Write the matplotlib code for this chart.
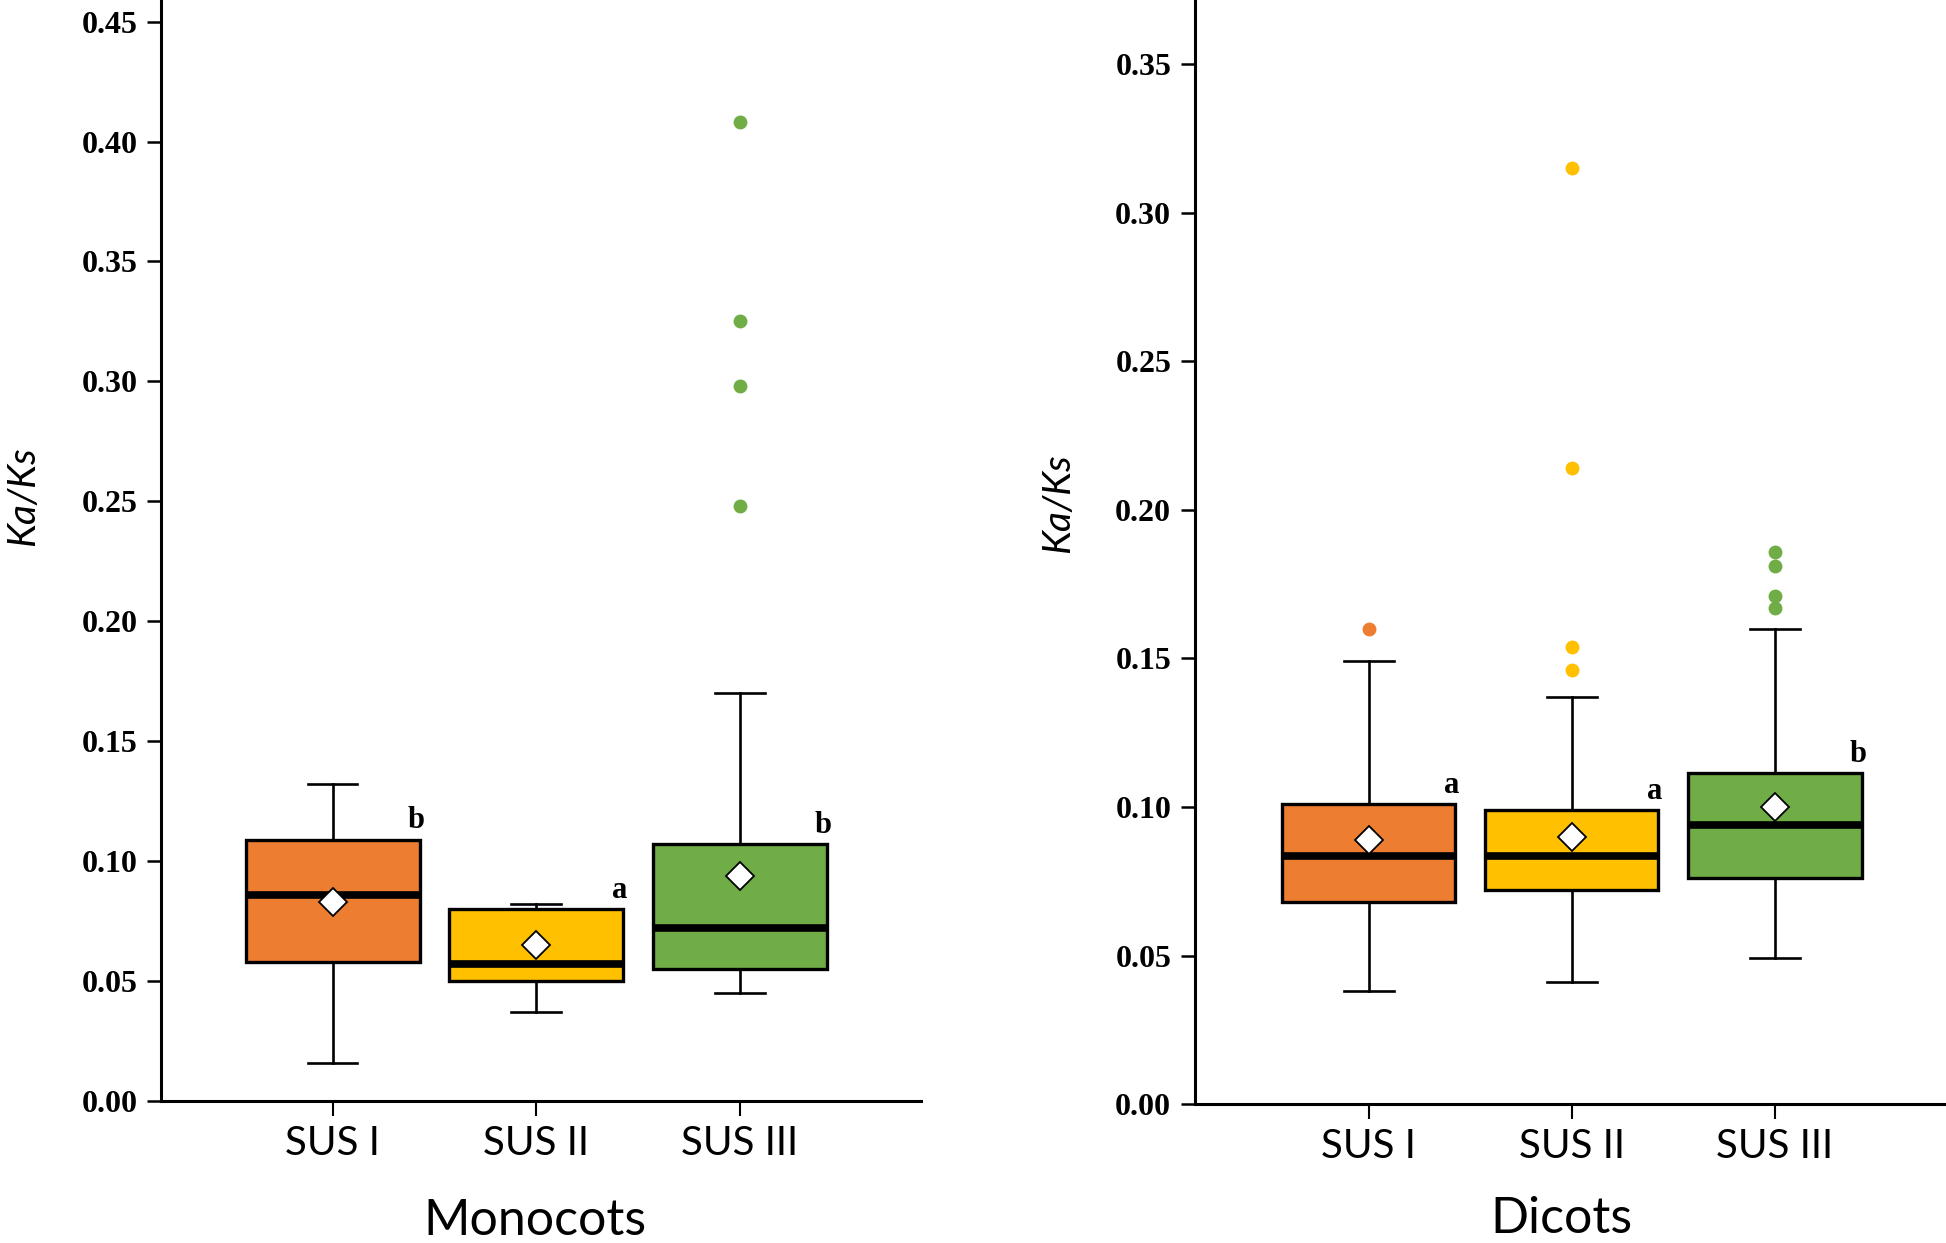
import numpy as np
import matplotlib.pyplot as plt

groups = ['SUS I', 'SUS II', 'SUS III']
colors = ['#ED7D31', '#FFC000', '#70AD47']

# Monocots
mono_q1 = [0.058, 0.050, 0.055]
mono_med = [0.086, 0.057, 0.072]
mono_q3 = [0.109, 0.080, 0.107]
mono_mean = [0.083, 0.065, 0.094]
mono_wlo = [0.016, 0.037, 0.045]
mono_whi = [0.132, 0.082, 0.170]
mono_fliers = [[], [], [0.408, 0.325, 0.298, 0.248]]
mono_letters = ['b', 'a', 'b']
mono_yticks = [0.00, 0.05, 0.10, 0.15, 0.20, 0.25, 0.30, 0.35, 0.40, 0.45]

# Dicots
dicot_q1 = [0.068, 0.072, 0.076]
dicot_med = [0.0835, 0.0835, 0.094]
dicot_q3 = [0.101, 0.099, 0.1115]
dicot_mean = [0.089, 0.090, 0.100]
dicot_wlo = [0.038, 0.041, 0.049]
dicot_whi = [0.149, 0.137, 0.160]
dicot_fliers = [[0.160], [0.315, 0.214, 0.154, 0.146], [0.186, 0.181, 0.171, 0.167]]
dicot_letters = ['a', 'a', 'b']
dicot_yticks = [0.00, 0.05, 0.10, 0.15, 0.20, 0.25, 0.30, 0.35]

SERIF = 'Liberation Serif'
SANS = 'Lato'


def draw_panel(ax, q1, med, q3, mean, wlo, whi, fliers, letters, yticks, ylim, xlim):
    stats = []
    for i in range(len(groups)):
        stats.append(dict(q1=q1[i], med=med[i], q3=q3[i], mean=mean[i],
                          whislo=wlo[i], whishi=whi[i], fliers=fliers[i], label=groups[i]))
    bp = ax.bxp(stats, positions=[1, 2, 3], widths=0.855, patch_artist=True,
                showmeans=True, showfliers=True,
                boxprops=dict(linewidth=2.4, edgecolor='black'),
                medianprops=dict(color='black', linewidth=5.5),
                whiskerprops=dict(color='black', linewidth=1.9),
                capprops=dict(color='black', linewidth=1.9),
                capwidths=0.245,
                meanprops=dict(marker='D', markerfacecolor='white', markeredgecolor='black',
                               markeredgewidth=1.3, markersize=14),
                flierprops=dict(marker='o', markeredgecolor='none', markersize=10))
    for patch, fl, c in zip(bp['boxes'], bp['fliers'], colors):
        patch.set_facecolor(c)
        fl.set_markerfacecolor(c)

    # significance letters at the top-right corner of each box
    for i, letter in enumerate(letters):
        ax.annotate(letter, xy=(i + 1 + 0.41, q3[i]), xytext=(0, 3), textcoords='offset points',
                    ha='center', va='bottom', fontsize=22, fontweight='bold', family=SERIF)

    ax.set_xlim(xlim)
    ax.set_ylim(ylim)
    ax.set_yticks(yticks)
    ax.set_yticklabels([f'{v:.2f}' for v in yticks], fontsize=23, fontweight='bold', family=SERIF)
    ax.set_xticks([1, 2, 3])
    ax.set_xticklabels(groups, fontsize=29, family=SANS)
    ax.tick_params(axis='y', length=10, width=1.8, pad=7, direction='out')
    ax.tick_params(axis='x', length=11, width=1.5, pad=6, direction='out')
    ax.spines['top'].set_visible(False)
    ax.spines['right'].set_visible(False)
    ax.spines['left'].set_linewidth(2.2)
    ax.spines['bottom'].set_linewidth(2.2)
    ax.set_ylabel('Ka/Ks', fontsize=28, style='italic', family=SANS, va='center')


fig = plt.figure(figsize=(19.46, 12.43), dpi=100)
ax1 = fig.add_axes([0.0827, 0.1142, 0.3906, 0.8858])
ax2 = fig.add_axes([0.614, 0.1118, 0.385, 0.8882])

draw_panel(ax1, mono_q1, mono_med, mono_q3, mono_mean, mono_wlo, mono_whi,
           mono_fliers, mono_letters, mono_yticks, (0, 0.459), (0.157, 3.891))
draw_panel(ax2, dicot_q1, dicot_med, dicot_q3, dicot_mean, dicot_wlo, dicot_whi,
           dicot_fliers, dicot_letters, dicot_yticks, (0, 0.3717), (0.144, 3.834))

ax1.yaxis.set_label_coords(-0.182, 0.549)
ax2.yaxis.set_label_coords(-0.182, 0.544)

fig.text(535 / 1946, 1 - 1198 / 1243, 'Monocots', ha='center', va='top', fontsize=36, family=SANS)
fig.text(1561 / 1946, 1 - 1196 / 1243, 'Dicots', ha='center', va='top', fontsize=36, family=SANS)

fig.savefig('out.png', dpi=100)
